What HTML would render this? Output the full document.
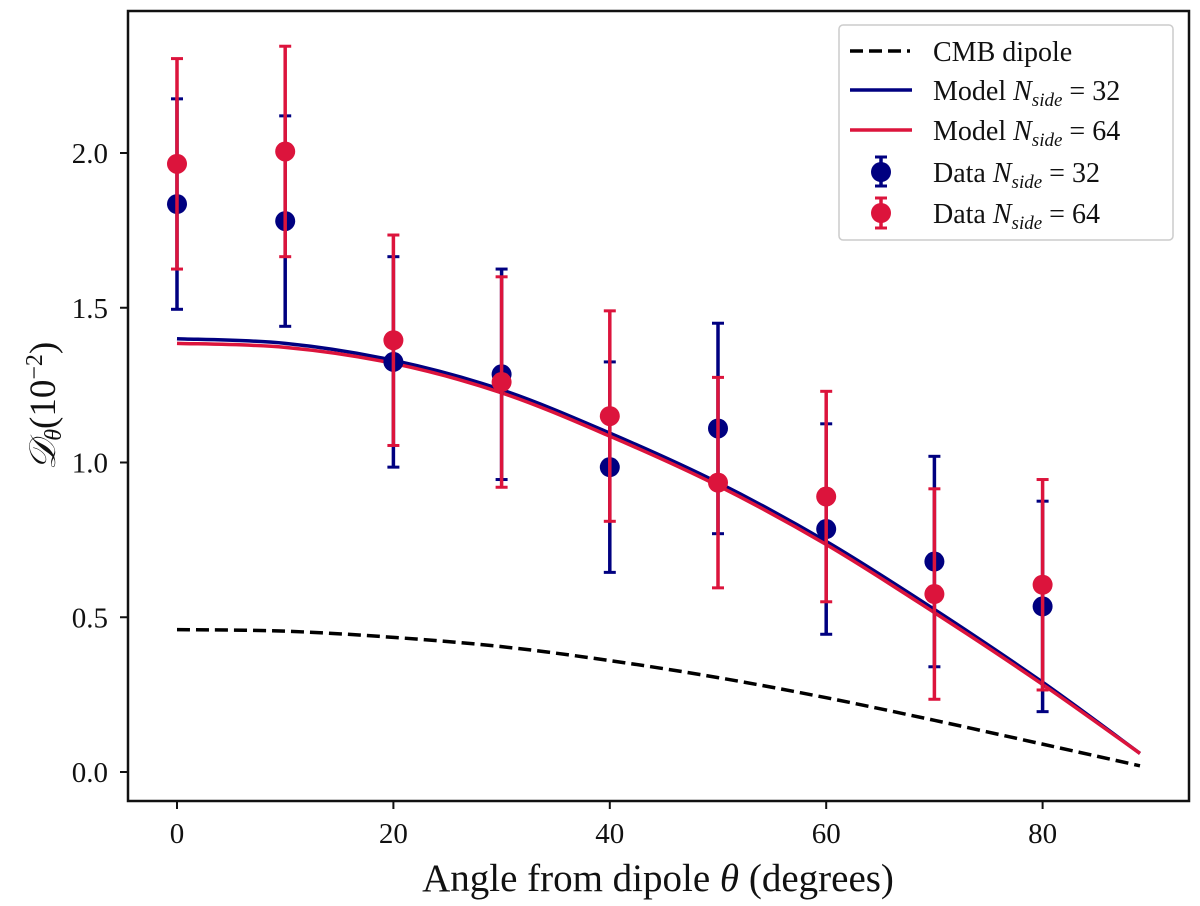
<!DOCTYPE html>
<html><head><meta charset="utf-8"><style>
body{margin:0;background:#fff;position:relative;width:1200px;height:906px;overflow:hidden}
svg text{font-family:"Liberation Serif",serif;fill:#111;}
#chart{position:absolute;left:0;top:0}
</style></head><body>
<svg id="chart" width="1200" height="906" viewBox="0 0 1200 906">
<g id="plot"></g>
</svg>
<script>
const xTicks=[0,20,40,60,80];
const yTicks=[0.0,0.5,1.0,1.5,2.0];
const yTickLabels=["0.0","0.5","1.0","1.5","2.0"];
const dataX=[0,10,20,30,40,50,60,70,80];
const data32=[1.835,1.78,1.325,1.285,0.985,1.11,0.785,0.68,0.535];
const err32=[0.34,0.34,0.34,0.34,0.34,0.34,0.34,0.34,0.34];
const data64=[1.965,2.005,1.395,1.26,1.15,0.935,0.89,0.575,0.605];
const err64=[0.34,0.34,0.34,0.34,0.34,0.34,0.34,0.34,0.34];
const modelX=[0,10,20,30,40,50,60,70,80,89];
const model32=[1.40,1.385,1.33,1.235,1.095,0.935,0.745,0.525,0.29,0.06];
const model64=[1.385,1.372,1.32,1.225,1.085,0.925,0.735,0.515,0.283,0.06];
const cmb=[0.46,0.455,0.435,0.405,0.36,0.305,0.24,0.167,0.09,0.02];

const NS="http://www.w3.org/2000/svg";
const L=128,R=1189,T=11,B=801;
const X=v=>177+v*10.82;
const Y=v=>772-v*309.5;
const svg=document.getElementById('plot');
function mk(tag,attrs,parent){const e=document.createElementNS(NS,tag);for(const k in attrs)e.setAttribute(k,attrs[k]);(parent||svg).appendChild(e);return e;}
function curve(xs,ys){
  const p=xs.map((x,i)=>[X(x),Y(ys[i])]);
  let d=`M${p[0][0]},${p[0][1]}`;
  for(let i=0;i<p.length-1;i++){
    const p0=p[Math.max(0,i-1)],p1=p[i],p2=p[i+1],p3=p[Math.min(p.length-1,i+2)];
    const c1=[p1[0]+(p2[0]-p0[0])/6,p1[1]+(p2[1]-p0[1])/6];
    const c2=[p2[0]-(p3[0]-p1[0])/6,p2[1]-(p3[1]-p1[1])/6];
    d+=` C${c1[0]},${c1[1]} ${c2[0]},${c2[1]} ${p2[0]},${p2[1]}`;
  }
  return d;
}
xTicks.forEach(t=>{
  const tk=mk('line',{x1:X(t),x2:X(t),y1:B,y2:B+8,stroke:'#111','stroke-width':2});
  
  
  const tx=mk('text',{x:X(t),y:B+42,'text-anchor':'middle','font-size':29});
  tx.textContent=t;
  
  
});
yTicks.forEach((t,i)=>{
  const tk=mk('line',{x1:L-8,x2:L,y1:Y(t),y2:Y(t),stroke:'#111','stroke-width':2});
  
  
  const tx=mk('text',{x:L-20,y:Y(t)+10,'text-anchor':'end','font-size':29});
  tx.textContent=yTickLabels[i];
  
  
});
const cm=mk('path',{d:curve(modelX,cmb),fill:'none',stroke:'#000','stroke-width':3.5,'stroke-dasharray':'13,6'});


const m32=mk('path',{d:curve(modelX,model32),fill:'none',stroke:'#000080','stroke-width':3.5});


const m64=mk('path',{d:curve(modelX,model64),fill:'none',stroke:'#dc143c','stroke-width':3.5});


function series(vals,errs,col,name){
  dataX.forEach((x,i)=>{
    const cx=X(x),y1=Y(vals[i]+errs[i]),y2=Y(vals[i]-errs[i]);
    const g=mk('g',{});
    
    
    mk('line',{x1:cx,x2:cx,y1:y1,y2:y2,stroke:col,'stroke-width':3.5},g);
    mk('line',{x1:cx-6,x2:cx+6,y1:y1,y2:y1,stroke:col,'stroke-width':3},g);
    mk('line',{x1:cx-6,x2:cx+6,y1:y2,y2:y2,stroke:col,'stroke-width':3},g);
    mk('circle',{cx:cx,cy:Y(vals[i]),r:10,fill:col},g);
  });
}
series(data32,err32,'#000080','data-32');
series(data64,err64,'#dc143c','data-64');
const fr=mk('rect',{x:L,y:T,width:R-L,height:B-T,fill:'none',stroke:'#111','stroke-width':2.5});


</script>
<svg style="position:absolute;left:0;top:0" width="1200" height="906">
<g font-size="28">
<rect x="839" y="25" width="334" height="215" rx="4" fill="#fff" fill-opacity="0.85" stroke="#ccc" stroke-width="1.5"/>
<line x1="850" y1="51" x2="910" y2="51" stroke="#000" stroke-width="3.5" stroke-dasharray="13,6"/>
<text x="933" y="61">CMB dipole</text>
<line x1="850" y1="90" x2="912" y2="90" stroke="#000080" stroke-width="3.5"/>
<text x="933" y="100">Model <tspan font-style="italic">N</tspan><tspan font-style="italic" font-size="19" dy="6">side</tspan><tspan dy="-6"> = 32</tspan></text>
<line x1="850" y1="130" x2="912" y2="130" stroke="#dc143c" stroke-width="3.5"/>
<text x="933" y="140">Model <tspan font-style="italic">N</tspan><tspan font-style="italic" font-size="19" dy="6">side</tspan><tspan dy="-6"> = 64</tspan></text>
<line x1="881" y1="157" x2="881" y2="186" stroke="#000080" stroke-width="3.5"/><line x1="875" y1="157" x2="887" y2="157" stroke="#000080" stroke-width="3"/><line x1="875" y1="186" x2="887" y2="186" stroke="#000080" stroke-width="3"/><circle cx="881" cy="172" r="10" fill="#000080"/>
<text x="933" y="182">Data <tspan font-style="italic">N</tspan><tspan font-style="italic" font-size="19" dy="6">side</tspan><tspan dy="-6"> = 32</tspan></text>
<line x1="881" y1="198" x2="881" y2="228" stroke="#dc143c" stroke-width="3.5"/><line x1="875" y1="198" x2="887" y2="198" stroke="#dc143c" stroke-width="3"/><line x1="875" y1="228" x2="887" y2="228" stroke="#dc143c" stroke-width="3"/><circle cx="881" cy="213" r="10" fill="#dc143c"/>
<text x="933" y="223">Data <tspan font-style="italic">N</tspan><tspan font-style="italic" font-size="19" dy="6">side</tspan><tspan dy="-6"> = 64</tspan></text>
</g>
<text x="658" y="891" text-anchor="middle" font-size="39" font-family="Liberation Serif, serif">Angle from dipole <tspan font-style="italic">θ</tspan> (degrees)</text>
<text transform="translate(55,406) rotate(-90)" text-anchor="middle" font-size="37" font-family="Liberation Serif, serif"><tspan font-style="italic">𝒟</tspan><tspan font-style="italic" font-size="24" dy="6">θ</tspan><tspan dy="-6">(10</tspan><tspan font-size="24" dy="-13">−2</tspan><tspan dy="13">)</tspan></text>
</svg>
</body></html>
